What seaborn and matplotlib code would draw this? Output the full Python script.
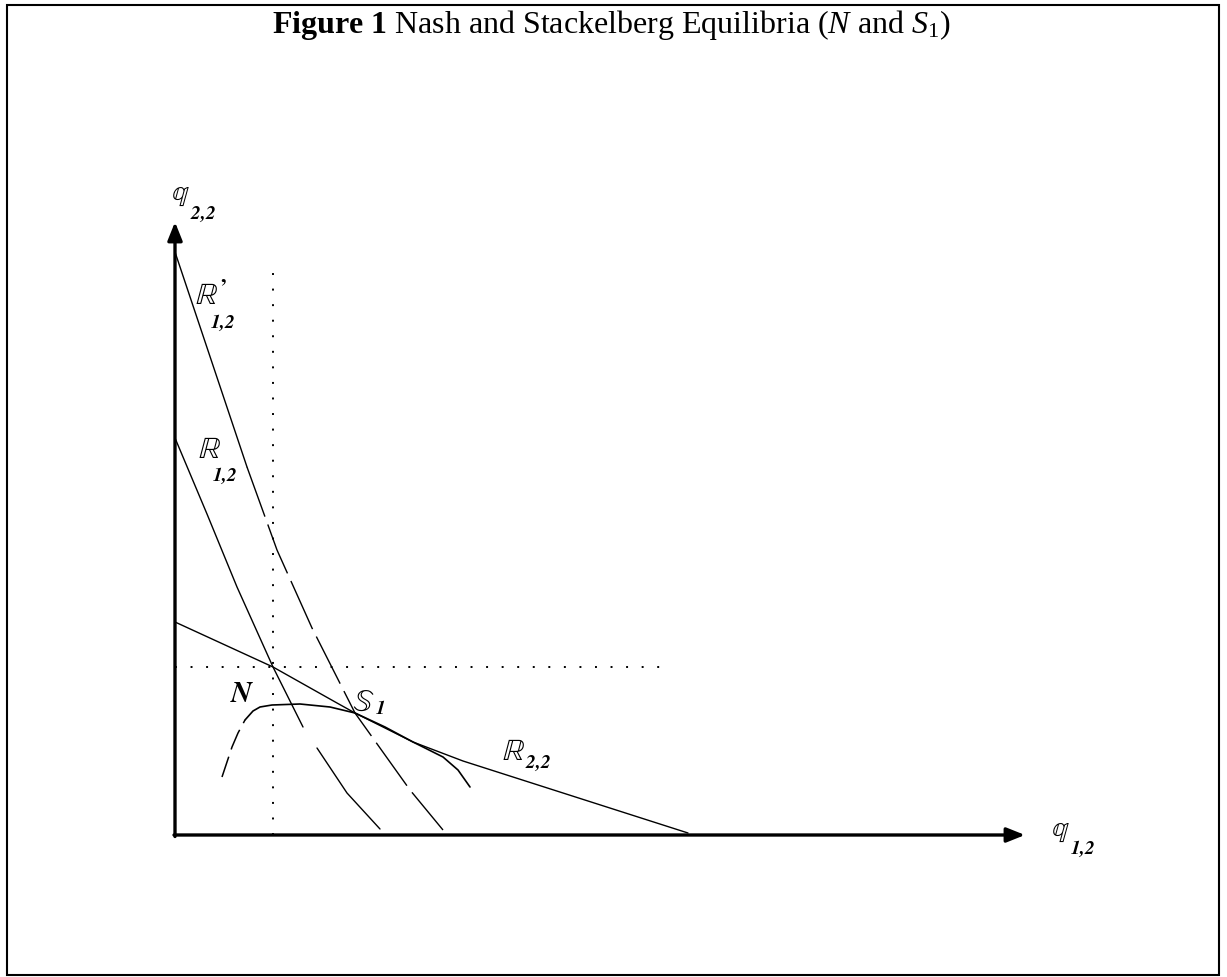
import matplotlib
matplotlib.use("Agg")
import matplotlib.pyplot as plt
import seaborn as sns
from matplotlib.patches import Rectangle
from matplotlib.mathtext import MathTextParser

# ---------------- data (quantity units, origin at the axes crossing) ----------------
# reaction function R'_{1,2}
r1p_x = [0.00, 0.72, 1.02, 1.37, 1.80, 2.35, 2.68]
r1p_y = [5.83, 3.68, 2.85, 2.07, 1.22, 0.45, 0.05]
# reaction function R_{1,2}
r1_x = [0.00, 0.32, 0.62, 0.98, 1.28, 1.42, 1.72, 2.05]
r1_y = [3.97, 3.21, 2.48, 1.68, 1.08, 0.87, 0.42, 0.06]
# reaction function R_{2,2}
r2_x = [0.00, 0.98, 1.62, 1.80, 2.38, 2.88, 5.13]
r2_y = [2.13, 1.68, 1.32, 1.22, 0.93, 0.74, 0.02]
# iso-profit curve tangent at S1
iso_x = [0.47, 0.57, 0.63, 0.70, 0.78, 0.85, 0.97, 1.25, 1.55, 1.80, 2.10, 2.38, 2.68, 2.83, 2.95]
iso_y = [0.58, 0.88, 1.02, 1.15, 1.24, 1.28, 1.30, 1.31, 1.28, 1.22, 1.08, 0.93, 0.78, 0.65, 0.48]
# equilibria
nash_q = (0.98, 1.68)
stack_q = (1.80, 1.22)
# axis extents
x_axis_end = 8.50
y_axis_end = 6.13
v_dot_top = 5.70
h_dot_end = 4.97

title_text = r"$\mathbf{Figure\ 1}$ Nash and Stackelberg Equilibria ($N$ and $S_{\mathit{1}}$)"

# ---------------- figure ----------------
sns.set_theme(style="white")
plt.rcParams["font.family"] = ["Liberation Serif", "DejaVu Serif"]
plt.rcParams["mathtext.rm"] = "Liberation Serif"
plt.rcParams["mathtext.it"] = "Liberation Serif:italic"
plt.rcParams["mathtext.bf"] = "Liberation Serif:bold"

# bold-italic command for subscripts (fallback if unsupported)
BFIT = r"\mathbfit"
try:
    MathTextParser("agg").parse(r"$\mathbfit{1{,}2}$", dpi=100)
except Exception:
    BFIT = r"\mathbf"

W, H = 1227, 977
OX, OY, S = 175, 835, 100.0  # origin pixel and pixels per unit

fig = plt.figure(figsize=(W / 100, H / 100), dpi=100)
fig.patch.set_facecolor("white")
ax = fig.add_axes([0, 0, 1, 1])
ax.set_xlim(-OX / S, (W - OX) / S)
ax.set_ylim(-(H - OY) / S, OY / S)
ax.axis("off")


def px(xp, yp):
    return (xp - OX) / S, (OY - yp) / S


# frame
(fx0, fy0), (fx1, fy1) = px(7, 975), px(1219, 5)
ax.add_patch(Rectangle((fx0, fy0), fx1 - fx0, fy1 - fy0, fill=False,
                       lw=1.5, edgecolor="black", zorder=1))

line_kw = dict(color="black", sort=False, estimator=None, ax=ax)

# dotted guide lines
sns.lineplot(x=[nash_q[0], nash_q[0]], y=[0, v_dot_top], lw=1.4,
             linestyle=(0, (1, 7)), **line_kw)
sns.lineplot(x=[0, h_dot_end], y=[nash_q[1], nash_q[1]], lw=1.4,
             linestyle=(0, (1, 7)), **line_kw)

# curves
sns.lineplot(x=r1p_x[:2], y=r1p_y[:2], lw=1.0, **line_kw)
sns.lineplot(x=r1p_x[1:], y=r1p_y[1:], lw=1.0, linestyle=(0, (38, 6)), **line_kw)
sns.lineplot(x=r1_x[:5], y=r1_y[:5], lw=1.0, **line_kw)
sns.lineplot(x=r1_x[5:], y=r1_y[5:], lw=1.0, **line_kw)
sns.lineplot(x=r2_x, y=r2_y, lw=1.0, **line_kw)
sns.lineplot(x=iso_x[:4], y=iso_y[:4], lw=1.1, linestyle=(0, (14, 5)), **line_kw)
sns.lineplot(x=iso_x[3:], y=iso_y[3:], lw=1.2, **line_kw)

# axes with arrows
arrow = dict(arrowstyle="-|>,head_length=0.5,head_width=0.2", lw=2.4,
             color="black", shrinkA=0, shrinkB=0, mutation_scale=22)
ax.annotate("", xy=(x_axis_end, 0), xytext=(-0.01, 0), arrowprops=arrow)
ax.annotate("", xy=(0, y_axis_end), xytext=(0, -0.015), arrowprops=arrow)

renderer = fig.canvas.get_renderer()
inv = ax.transData.inverted()


def lab(xp, yp, s, size, mf="stix", va="baseline"):
    x, y = px(xp, yp)
    return ax.text(x, y, s, ha="left", va=va, fontsize=size, color="black",
                   math_fontfamily=mf)


def box(t):
    return t.get_window_extent(renderer)


def at_disp(xd, yd, s, size, va, mf="stix"):
    x, y = inv.transform((xd, yd))
    return ax.text(x, y, s, ha="left", va=va, fontsize=size, color="black",
                   math_fontfamily=mf)


def sub(s):
    return "$" + BFIT + "{" + s.replace(",", "{,}") + "}$"


def sub_below(main, s, dx, size=14, gap=0.5):
    """subscript tucked under the main glyph, starting dx px right of its left edge"""
    b = box(main)
    return at_disp(b.x0 + dx, b.y0 - gap, s, size, "top")


def sub_right(main, s, yp, size=14, gap=0.5):
    """subscript placed right of the main glyph at a given baseline"""
    b = box(main)
    _, yd = ax.transData.transform(px(0, yp))
    return at_disp(b.x1 + gap, yd, s, size, "baseline")


# R'_{1,2}
r1p_lab = lab(195, 305, r"$\mathbb{R}^{\mathbf{’}}$", 22)
sub_below(r1p_lab, sub("1,2"), 15)
# R_{1,2}
r1_lab = lab(198, 458, r"$\mathbb{R}$", 22)
sub_below(r1_lab, sub("1,2"), 14)
# R_{2,2}
r2_lab = lab(502, 760, r"$\mathbb{R}$", 22)
sub_right(r2_lab, sub("2,2"), 768)
# equilibria labels
lab(230, 702, sub("N"), 21)
s_lab = lab(352, 711, r"$\mathbb{S}$", 22)
sub_right(s_lab, sub("1"), 714)
# axis labels
q2_lab = lab(171, 200, r"$\mathbb{q}$", 21)
sub_right(q2_lab, sub("2,2"), 219)
q1_lab = lab(1051, 836, r"$\mathbb{q}$", 21)
sub_right(q1_lab, sub("1,2"), 854)

# title
tx, ty = px(611, 33)
ax.text(tx, ty, title_text, ha="center", va="baseline", fontsize=23,
        color="black", family="Liberation Serif", math_fontfamily="custom")

fig.savefig("out.png", dpi=100, facecolor="white")
